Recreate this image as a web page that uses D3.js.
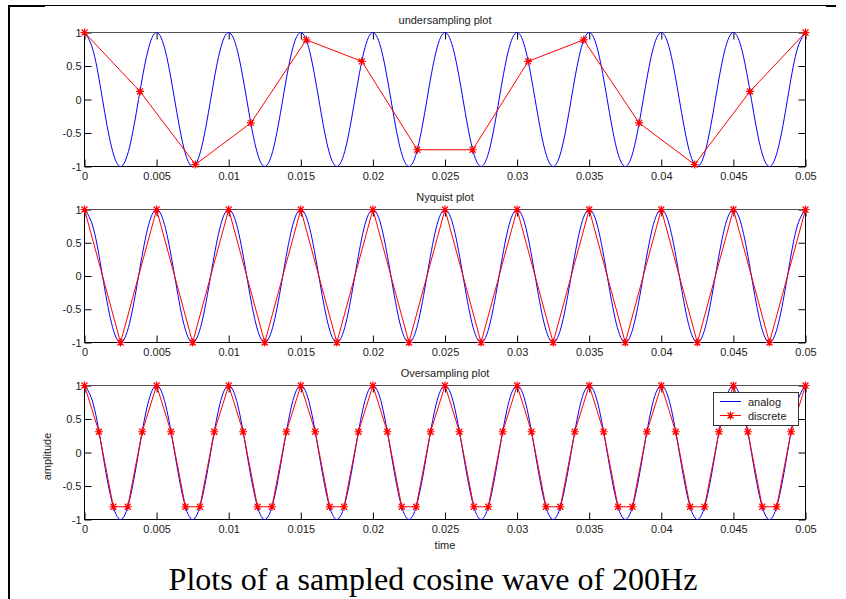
<!DOCTYPE html>
<html>
<head>
<meta charset="utf-8">
<script src="https://cdn.jsdelivr.net/npm/d3@7"></script>
<style>
body { margin: 0; background: #fff; }
svg { display: block; }
.tick text, .lbl { font-family: "Liberation Sans", Arial, sans-serif; font-size: 11px; fill: #222; }
</style>
</head>
<body>
<svg width="846" height="599"></svg>
<script>
// analog 200Hz cosine, read at 1/8 period steps
var analogTime = [0, 0.000625, 0.00125, 0.001875, 0.0025, 0.003125, 0.00375, 0.004375, 0.005,
  0.005625, 0.00625, 0.006875, 0.0075, 0.008125, 0.00875, 0.009375, 0.01,
  0.010625, 0.01125, 0.011875, 0.0125, 0.013125, 0.01375, 0.014375, 0.015,
  0.015625, 0.01625, 0.016875, 0.0175, 0.018125, 0.01875, 0.019375, 0.02,
  0.020625, 0.02125, 0.021875, 0.0225, 0.023125, 0.02375, 0.024375, 0.025,
  0.025625, 0.02625, 0.026875, 0.0275, 0.028125, 0.02875, 0.029375, 0.03,
  0.030625, 0.03125, 0.031875, 0.0325, 0.033125, 0.03375, 0.034375, 0.035,
  0.035625, 0.03625, 0.036875, 0.0375, 0.038125, 0.03875, 0.039375, 0.04,
  0.040625, 0.04125, 0.041875, 0.0425, 0.043125, 0.04375, 0.044375, 0.045,
  0.045625, 0.04625, 0.046875, 0.0475, 0.048125, 0.04875, 0.049375, 0.05];
var analogAmp = [1, 0.71, 0, -0.71, -1, -0.71, 0, 0.71,
  1, 0.71, 0, -0.71, -1, -0.71, 0, 0.71,
  1, 0.71, 0, -0.71, -1, -0.71, 0, 0.71,
  1, 0.71, 0, -0.71, -1, -0.71, 0, 0.71,
  1, 0.71, 0, -0.71, -1, -0.71, 0, 0.71,
  1, 0.71, 0, -0.71, -1, -0.71, 0, 0.71,
  1, 0.71, 0, -0.71, -1, -0.71, 0, 0.71,
  1, 0.71, 0, -0.71, -1, -0.71, 0, 0.71,
  1, 0.71, 0, -0.71, -1, -0.71, 0, 0.71,
  1, 0.71, 0, -0.71, -1, -0.71, 0, 0.71,
  1];

var underTime = [0, 0.00385, 0.00769, 0.01154, 0.01538, 0.01923, 0.02308,
  0.02692, 0.03077, 0.03462, 0.03846, 0.04231, 0.04615, 0.05];
var underAmp = [1, 0.12, -0.97, -0.35, 0.89, 0.57, -0.75, -0.75, 0.57, 0.89, -0.35, -0.97, 0.12, 1];

var nyqTime = [0, 0.0025, 0.005, 0.0075, 0.01, 0.0125, 0.015, 0.0175, 0.02, 0.0225, 0.025,
  0.0275, 0.03, 0.0325, 0.035, 0.0375, 0.04, 0.0425, 0.045, 0.0475, 0.05];
var nyqAmp = [1, -1, 1, -1, 1, -1, 1, -1, 1, -1, 1, -1, 1, -1, 1, -1, 1, -1, 1, -1, 1];

var overTime = [0, 0.001, 0.002, 0.003, 0.004, 0.005, 0.006, 0.007, 0.008, 0.009, 0.01,
  0.011, 0.012, 0.013, 0.014, 0.015, 0.016, 0.017, 0.018, 0.019, 0.02,
  0.021, 0.022, 0.023, 0.024, 0.025, 0.026, 0.027, 0.028, 0.029, 0.03,
  0.031, 0.032, 0.033, 0.034, 0.035, 0.036, 0.037, 0.038, 0.039, 0.04,
  0.041, 0.042, 0.043, 0.044, 0.045, 0.046, 0.047, 0.048, 0.049, 0.05];
var overAmp = [1, 0.31, -0.81, -0.81, 0.31, 1, 0.31, -0.81, -0.81, 0.31,
  1, 0.31, -0.81, -0.81, 0.31, 1, 0.31, -0.81, -0.81, 0.31,
  1, 0.31, -0.81, -0.81, 0.31, 1, 0.31, -0.81, -0.81, 0.31,
  1, 0.31, -0.81, -0.81, 0.31, 1, 0.31, -0.81, -0.81, 0.31,
  1, 0.31, -0.81, -0.81, 0.31, 1, 0.31, -0.81, -0.81, 0.31,
  1];

var xTicks = [0, 0.005, 0.01, 0.015, 0.02, 0.025, 0.03, 0.035, 0.04, 0.045, 0.05];
var xTickLabels = ["0", "0.005", "0.01", "0.015", "0.02", "0.025", "0.03", "0.035", "0.04", "0.045", "0.05"];
var yTicks = [-1, -0.5, 0, 0.5, 1];
var yTickLabels = ["-1", "-0.5", "0", "0.5", "1"];
var titles = ["undersampling plot", "Nyquist plot", "Oversampling plot"];
var caption = "Plots of a sampled cosine wave of 200Hz";

var svg = d3.select("svg");

// outer frame pieces
svg.append("line").attr("x1", 8).attr("x2", 836).attr("y1", 5.5).attr("y2", 5.5).attr("stroke", "#000");
svg.append("rect").attr("x", 8).attr("y", 5).attr("width", 37).attr("height", 2).attr("fill", "#000");
svg.append("rect").attr("x", 826).attr("y", 5).attr("width", 10).attr("height", 2).attr("fill", "#000");
svg.append("rect").attr("x", 8).attr("y", 5).attr("width", 2).attr("height", 594).attr("fill", "#000");

var x = d3.scaleLinear().domain([0, 0.05]).range([84.5, 805.5]);

var panels = [
  {top: 32.5, bottom: 166.5, t: underTime, a: underAmp},
  {top: 209.5, bottom: 342.5, t: nyqTime, a: nyqAmp},
  {top: 385.5, bottom: 519.5, t: overTime, a: overAmp}
];

function star(g, px, py) {
  g.append("path")
    .attr("d", "M" + (px - 4) + "," + py + "h8M" + px + "," + (py - 4) + "v8" +
      "M" + (px - 3) + "," + (py - 3) + "l6,6M" + (px - 3) + "," + (py + 3) + "l6,-6")
    .attr("stroke", "#ff0000")
    .attr("stroke-width", 1.2)
    .attr("fill", "none");
}

panels.forEach(function(p, i) {
  var y = d3.scaleLinear().domain([-1, 1]).range([p.bottom, p.top]);
  var g = svg.append("g");

  var ax = d3.axisBottom(x).tickValues(xTicks).tickSize(-7).tickPadding(6)
    .tickFormat(function(d, k) { return xTickLabels[k]; });
  g.append("g").attr("transform", "translate(0," + p.bottom + ")").call(ax);

  var ay = d3.axisLeft(y).tickValues(yTicks).tickSize(-7).tickPadding(3)
    .tickFormat(function(d, k) { return yTickLabels[k]; });
  g.append("g").attr("transform", "translate(" + x.range()[0] + ",0)").call(ay);

  g.append("g").attr("transform", "translate(0," + p.top + ")")
    .call(d3.axisTop(x).tickValues(xTicks).tickSize(-7).tickFormat(""));
  g.append("g").attr("transform", "translate(" + x.range()[1] + ",0)")
    .call(d3.axisRight(y).tickValues(yTicks).tickSize(-7).tickFormat(""));

  g.selectAll(".domain").remove();
  g.selectAll(".tick line").attr("stroke", "#000");

  // box
  g.append("line").attr("x1", x.range()[0]).attr("x2", x.range()[1]).attr("y1", p.top).attr("y2", p.top).attr("stroke", "#555");
  g.append("line").attr("x1", x.range()[0]).attr("x2", x.range()[1]).attr("y1", p.bottom).attr("y2", p.bottom).attr("stroke", "#000");
  g.append("line").attr("x1", x.range()[0]).attr("x2", x.range()[0]).attr("y1", p.top).attr("y2", p.bottom).attr("stroke", "#000");
  g.append("line").attr("x1", x.range()[1]).attr("x2", x.range()[1]).attr("y1", p.top).attr("y2", p.bottom).attr("stroke", "#000");

  var analogLine = d3.line()
    .x(function(d, k) { return x(analogTime[k]); })
    .y(function(d) { return y(d); })
    .curve(d3.curveNatural);
  g.append("path").attr("d", analogLine(analogAmp))
    .attr("fill", "none").attr("stroke", "#0000ff").attr("stroke-width", 1);

  var sampleLine = d3.line()
    .x(function(d, k) { return x(p.t[k]); })
    .y(function(d) { return y(d); });
  g.append("path").attr("d", sampleLine(p.a))
    .attr("fill", "none").attr("stroke", "#ff0000").attr("stroke-width", 1);

  p.a.forEach(function(d, k) { star(g, x(p.t[k]), y(d)); });

  g.append("text").attr("class", "lbl")
    .attr("x", (x.range()[0] + x.range()[1]) / 2).attr("y", p.top - 9)
    .attr("text-anchor", "middle").text(titles[i]);

  if (i == 2) {
    g.append("text").attr("class", "lbl")
      .attr("x", (x.range()[0] + x.range()[1]) / 2).attr("y", p.bottom + 29)
      .attr("text-anchor", "middle").text("time");
    g.append("text").attr("class", "lbl")
      .attr("transform", "translate(51," + ((p.top + p.bottom) / 2 + 4) + ") rotate(-90)")
      .attr("text-anchor", "middle").text("amplitude");

    // legend
    var lg = g.append("g");
    lg.append("rect").attr("x", 713.5).attr("y", 392.5).attr("width", 85).attr("height", 33)
      .attr("fill", "#fff").attr("stroke", "#333");
    lg.append("line").attr("x1", 720).attr("x2", 741).attr("y1", 401.5).attr("y2", 401.5).attr("stroke", "#0000ff");
    lg.append("text").attr("class", "lbl").attr("x", 748).attr("y", 402).attr("dy", "0.35em").text("analog");
    lg.append("line").attr("x1", 720).attr("x2", 741).attr("y1", 415.5).attr("y2", 415.5).attr("stroke", "#ff0000");
    star(lg, 730.5, 415.5);
    lg.append("text").attr("class", "lbl").attr("x", 748).attr("y", 416).attr("dy", "0.35em").text("discrete");
  }
});

svg.append("text")
  .attr("x", 433).attr("y", 590)
  .attr("text-anchor", "middle")
  .style("font-family", "'Liberation Serif', 'Times New Roman', serif")
  .style("font-size", "32px")
  .style("fill", "#000")
  .text(caption);
</script>
</body>
</html>
